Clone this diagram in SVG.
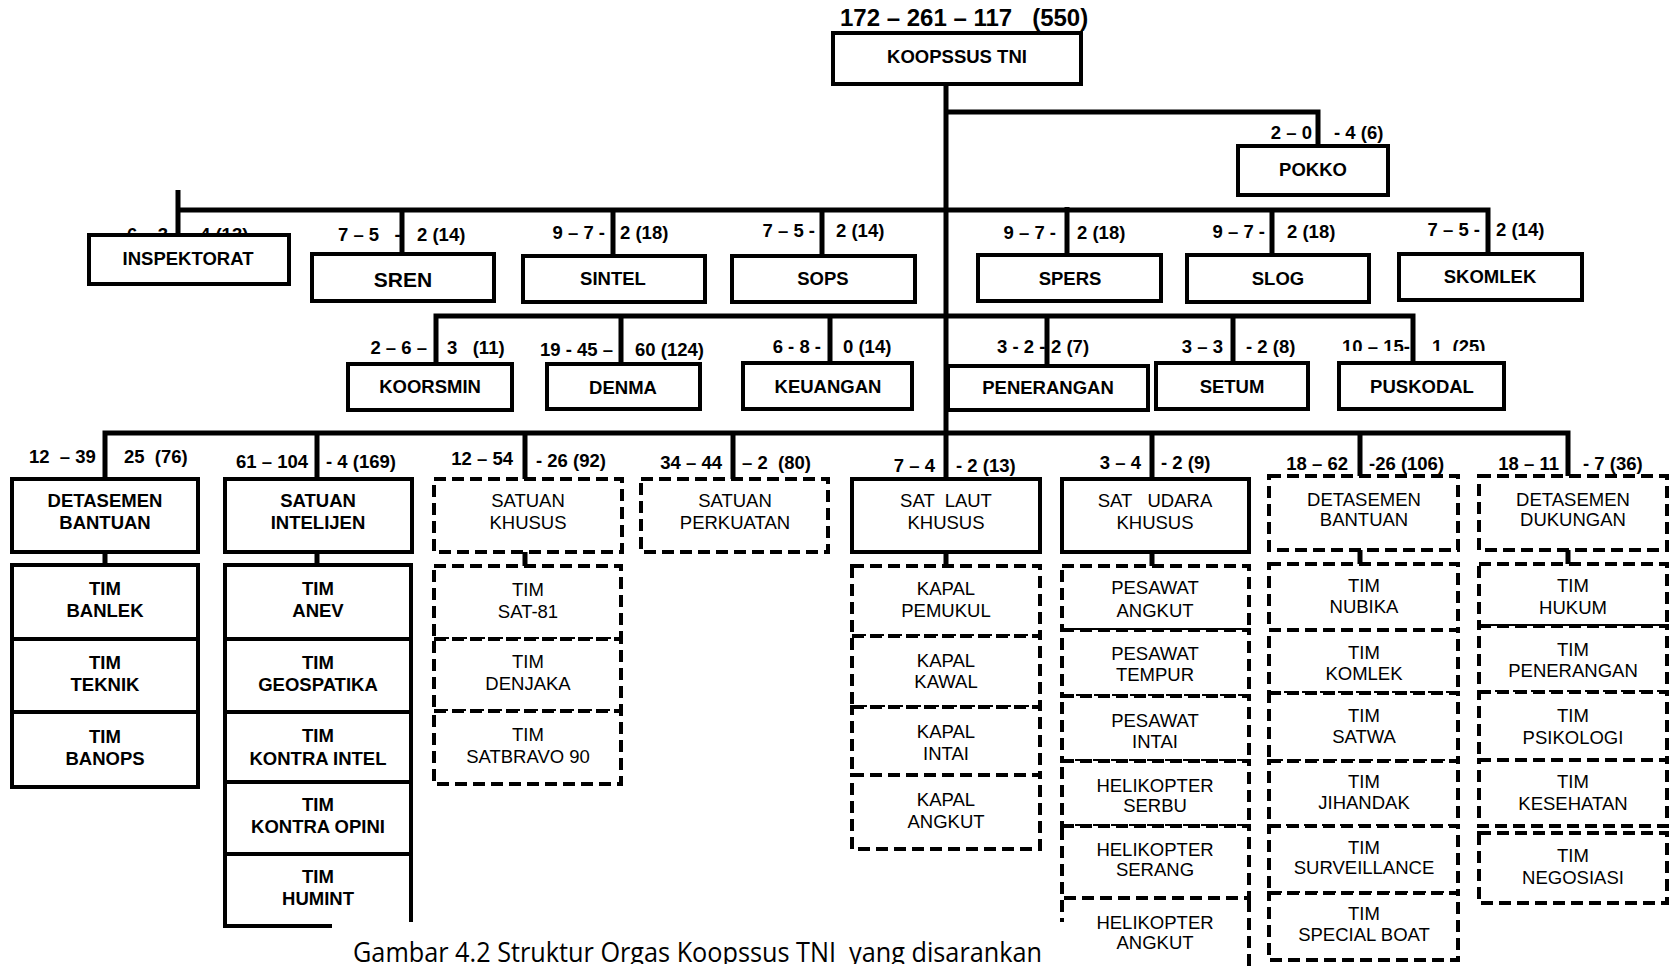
<svg xmlns="http://www.w3.org/2000/svg" width="1676" height="969" viewBox="0 0 1676 969">
<style>
text{font-family:"Liberation Sans",Arial,sans-serif;white-space:pre;fill:#000}
.t{font-weight:bold;font-size:18.5px;text-anchor:middle}
.r{font-size:18.5px;text-anchor:middle}
.n{font-weight:bold;font-size:18.5px}
.e{text-anchor:end}
.b{fill:#fff;stroke:#000;stroke-width:4}
.d{fill:#fff;stroke:#000;stroke-width:4;stroke-dasharray:12 6}
.dl{fill:none;stroke:#000;stroke-width:4;stroke-dasharray:12 6}
.sl{fill:none;stroke:#000;stroke-width:4}
.c{fill:none;stroke:#000;stroke-width:5}
.cap{font-family:"Open Sans","Noto Sans",sans-serif;font-size:28px}
</style>
<defs>
<clipPath id="pk"><rect x="1330" y="320" width="180" height="31"/></clipPath>
<clipPath id="capclip"><rect x="300" y="920" width="800" height="44"/></clipPath>
</defs>
<rect width="1676" height="969" fill="#fff"/>
<g id="connectors">
<path class="c" d="M946,84V479"/>
<path class="c" d="M946,112H1318V146"/>
<path class="c" d="M178,190V235M178,210H1488V254"/>
<path class="c" d="M402,210V254M613,210V256M822,210V256M1067,207V255M1272,210V255"/>
<path class="c" d="M436,364V316H1413V363"/>
<path class="c" d="M621,316V364M830,316V363M1047,316V366M1233,316V363"/>
<path class="c" d="M105,479V433H1568V476"/>
<path class="c" d="M317,433V479M525,433V479M733,433V479M1152,433V479M1360,433V476"/>
<path class="c" d="M105,552V565M317,552V565M525,552V566M946,552V566M1152,552V566M1360,550V564M1568,550V564"/>
</g>
<text class="n" x="840" y="26" style="font-size:24px">172 – 261 – 117   (550)</text>
<g id="koopssus"><rect class="b" x="833" y="33" width="248" height="51"/><text class="t" x="957" y="63">KOOPSSUS TNI</text></g>
<g id="pokko"><text class="n e" x="1312" y="139">2 – 0</text><text class="n" x="1334" y="139">- 4 (6)</text><rect class="b" x="1238" y="146" width="150" height="49"/><text class="t" x="1313" y="176">POKKO</text></g>
<g id="inspektorat"><text class="n" x="127" y="241">6 – 3</text><text class="n" x="200" y="241">4 (13)</text><rect class="b" x="89" y="235" width="200" height="49"/><text class="t" x="188" y="265">INSPEKTORAT</text></g>
<g id="sren"><text class="n" x="338" y="241">7 – 5   -</text><text class="n" x="417" y="241">2 (14)</text><rect class="b" x="312" y="254" width="182" height="47"/><text class="t" x="403" y="287" style="font-size:21px">SREN</text></g>
<g id="sintel"><text class="n e" x="605" y="239">9 – 7 -</text><text class="n" x="620" y="239">2 (18)</text><rect class="b" x="523" y="256" width="182" height="46"/><text class="t" x="613" y="285">SINTEL</text></g>
<g id="sops"><text class="n e" x="815" y="237">7 – 5 -</text><text class="n" x="836" y="237">2 (14)</text><rect class="b" x="732" y="256" width="183" height="46"/><text class="t" x="823" y="285">SOPS</text></g>
<g id="spers"><text class="n e" x="1056" y="239">9 – 7 -</text><text class="n" x="1077" y="239">2 (18)</text><rect class="b" x="978" y="255" width="183" height="46"/><text class="t" x="1070" y="285">SPERS</text></g>
<g id="slog"><text class="n e" x="1265" y="238">9 – 7 -</text><text class="n" x="1287" y="238">2 (18)</text><rect class="b" x="1187" y="255" width="182" height="47"/><text class="t" x="1278" y="285">SLOG</text></g>
<g id="skomlek"><text class="n e" x="1480" y="236">7 – 5 -</text><text class="n" x="1496" y="236">2 (14)</text><rect class="b" x="1399" y="254" width="183" height="46"/><text class="t" x="1490" y="283">SKOMLEK</text></g>
<g id="koorsmin"><text class="n e" x="427" y="354">2 – 6 –</text><text class="n" x="447" y="354">3   (11)</text><rect class="b" x="348" y="364" width="164" height="46"/><text class="t" x="430" y="393">KOORSMIN</text></g>
<g id="denma"><text class="n e" x="613" y="356">19 - 45 –</text><text class="n" x="635" y="356">60 (124)</text><rect class="b" x="547" y="364" width="153" height="45"/><text class="t" x="623" y="394">DENMA</text></g>
<g id="keuangan"><text class="n e" x="821" y="353">6 - 8 -</text><text class="n" x="843" y="353">0 (14)</text><rect class="b" x="743" y="363" width="169" height="46"/><text class="t" x="828" y="393">KEUANGAN</text></g>
<g id="penerangan"><text class="n" x="997" y="353">3 - 2 -</text><text class="n" x="1051" y="353">2 (7)</text><rect class="b" x="948" y="366" width="200" height="44"/><text class="t" x="1048" y="394">PENERANGAN</text></g>
<g id="setum"><text class="n e" x="1223" y="353">3 – 3</text><text class="n" x="1246" y="353">- 2 (8)</text><rect class="b" x="1156" y="363" width="152" height="46"/><text class="t" x="1232" y="393">SETUM</text></g>
<g id="puskodal"><g clip-path="url(#pk)"><text class="n" x="1342" y="353">10 – 15-</text><text class="n" x="1432" y="353">1  (25)</text></g><rect class="b" x="1339" y="363" width="165" height="46"/><text class="t" x="1422" y="393">PUSKODAL</text></g>
<g id="detasemen-bantuan-1">
<text class="n" x="29" y="463">12  – 39</text><text class="n" x="124" y="463">25  (76)</text>
<rect class="b" x="12" y="479" width="186" height="73"/><text class="t" x="105" y="507">DETASEMEN</text><text class="t" x="105" y="529">BANTUAN</text>
<rect class="b" x="12" y="565" width="186" height="74"/><text class="t" x="105" y="595">TIM</text><text class="t" x="105" y="617">BANLEK</text>
<rect class="b" x="12" y="639" width="186" height="73"/><text class="t" x="105" y="669">TIM</text><text class="t" x="105" y="691">TEKNIK</text>
<rect class="b" x="12" y="712" width="186" height="75"/><text class="t" x="105" y="743">TIM</text><text class="t" x="105" y="765">BANOPS</text>
</g>
<g id="satuan-intelijen">
<text class="n e" x="308" y="468">61 – 104</text><text class="n" x="326" y="468">- 4 (169)</text>
<rect class="b" x="225" y="479" width="187" height="73"/><text class="t" x="318" y="507">SATUAN</text><text class="t" x="318" y="529">INTELIJEN</text>
<rect class="b" x="225" y="565" width="186" height="74"/><text class="t" x="318" y="595">TIM</text><text class="t" x="318" y="617">ANEV</text>
<rect class="b" x="225" y="639" width="186" height="73"/><text class="t" x="318" y="669">TIM</text><text class="t" x="318" y="691">GEOSPATIKA</text>
<rect class="b" x="225" y="712" width="186" height="70"/><text class="t" x="318" y="742">TIM</text><text class="t" x="318" y="765">KONTRA INTEL</text>
<rect class="b" x="225" y="782" width="186" height="72"/><text class="t" x="318" y="811">TIM</text><text class="t" x="318" y="833">KONTRA OPINI</text>
<path class="sl" d="M225,854V926H332M411,854V922"/><text class="t" x="318" y="883">TIM</text><text class="t" x="318" y="905">HUMINT</text>
</g>
<g id="satuan-khusus">
<text class="n e" x="513" y="465">12 – 54</text><text class="n" x="536" y="467">- 26 (92)</text>
<rect class="d" x="434" y="479" width="188" height="73"/><text class="r" x="528" y="507">SATUAN</text><text class="r" x="528" y="529">KHUSUS</text>
<rect class="d" x="434" y="566" width="187" height="73"/><text class="r" x="528" y="596">TIM</text><text class="r" x="528" y="618">SAT-81</text>
<rect class="d" x="434" y="639" width="187" height="72"/><text class="r" x="528" y="668">TIM</text><text class="r" x="528" y="690">DENJAKA</text>
<rect class="d" x="434" y="711" width="187" height="73"/><text class="r" x="528" y="741">TIM</text><text class="r" x="528" y="763">SATBRAVO 90</text>
</g>
<g id="satuan-perkuatan">
<text class="n e" x="722" y="469">34 – 44</text><text class="n" x="742" y="469">– 2  (80)</text>
<rect class="d" x="641" y="479" width="187" height="73"/><text class="r" x="735" y="507">SATUAN</text><text class="r" x="735" y="529">PERKUATAN</text>
</g>
<g id="sat-laut-khusus">
<text class="n e" x="935" y="472">7 – 4</text><text class="n" x="956" y="472">- 2 (13)</text>
<rect class="b" x="852" y="479" width="188" height="73"/><text class="r" x="946" y="507">SAT  LAUT</text><text class="r" x="946" y="529">KHUSUS</text>
<rect class="d" x="852" y="566" width="188" height="70"/><text class="r" x="946" y="595">KAPAL</text><text class="r" x="946" y="617">PEMUKUL</text>
<rect class="d" x="852" y="636" width="188" height="71"/><text class="r" x="946" y="667">KAPAL</text><text class="r" x="946" y="688">KAWAL</text>
<rect class="d" x="852" y="707" width="188" height="68"/><text class="r" x="946" y="738">KAPAL</text><text class="r" x="946" y="760">INTAI</text>
<rect class="d" x="852" y="775" width="188" height="74"/><text class="r" x="946" y="806">KAPAL</text><text class="r" x="946" y="828">ANGKUT</text>
</g>
<g id="sat-udara-khusus">
<text class="n e" x="1141" y="469">3 – 4</text><text class="n" x="1161" y="469">- 2 (9)</text>
<rect class="b" x="1062" y="479" width="187" height="73"/><text class="r" x="1155" y="507">SAT   UDARA</text><text class="r" x="1155" y="529">KHUSUS</text>
<rect class="d" x="1062" y="566" width="187" height="64"/><text class="r" x="1155" y="594">PESAWAT</text><text class="r" x="1155" y="617">ANGKUT</text>
<rect class="d" x="1062" y="630" width="187" height="66"/><text class="r" x="1155" y="660">PESAWAT</text><text class="r" x="1155" y="681">TEMPUR</text>
<rect class="d" x="1062" y="696" width="187" height="65"/><text class="r" x="1155" y="727">PESAWAT</text><text class="r" x="1155" y="748">INTAI</text>
<rect class="d" x="1062" y="761" width="187" height="65"/><text class="r" x="1155" y="792">HELIKOPTER</text><text class="r" x="1155" y="812">SERBU</text>
<rect class="d" x="1062" y="826" width="187" height="72"/><text class="r" x="1155" y="856">HELIKOPTER</text><text class="r" x="1155" y="876">SERANG</text>
<path class="dl" d="M1062,900V922M1249,900V969"/><text class="r" x="1155" y="929">HELIKOPTER</text><text class="r" x="1155" y="949">ANGKUT</text>
</g>
<g id="detasemen-bantuan-2">
<text class="n e" x="1348" y="470">18 – 62</text><text class="n" x="1369" y="470">-26 (106)</text>
<rect class="d" x="1269" y="476" width="189" height="74"/><text class="r" x="1364" y="506">DETASEMEN</text><text class="r" x="1364" y="526">BANTUAN</text>
<rect class="d" x="1269" y="564" width="189" height="66"/><text class="r" x="1364" y="592">TIM</text><text class="r" x="1364" y="613">NUBIKA</text>
<rect class="d" x="1269" y="630" width="189" height="63"/><text class="r" x="1364" y="659">TIM</text><text class="r" x="1364" y="680">KOMLEK</text>
<rect class="d" x="1269" y="693" width="189" height="68"/><text class="r" x="1364" y="722">TIM</text><text class="r" x="1364" y="743">SATWA</text>
<rect class="d" x="1269" y="761" width="189" height="65"/><text class="r" x="1364" y="788">TIM</text><text class="r" x="1364" y="809">JIHANDAK</text>
<rect class="d" x="1269" y="826" width="189" height="67"/><text class="r" x="1364" y="854">TIM</text><text class="r" x="1364" y="874">SURVEILLANCE</text>
<rect class="d" x="1269" y="893" width="189" height="67"/><text class="r" x="1364" y="920">TIM</text><text class="r" x="1364" y="941">SPECIAL BOAT</text>
</g>
<g id="detasemen-dukungan">
<text class="n e" x="1559" y="470">18 – 11</text><text class="n" x="1583" y="470">- 7 (36)</text>
<rect class="d" x="1479" y="476" width="188" height="74"/><text class="r" x="1573" y="506">DETASEMEN</text><text class="r" x="1573" y="526">DUKUNGAN</text>
<rect class="d" x="1479" y="564" width="188" height="62"/><text class="r" x="1573" y="592">TIM</text><text class="r" x="1573" y="614">HUKUM</text>
<rect class="d" x="1479" y="626" width="188" height="66"/><text class="r" x="1573" y="656">TIM</text><text class="r" x="1573" y="677">PENERANGAN</text>
<rect class="d" x="1479" y="692" width="188" height="68"/><text class="r" x="1573" y="722">TIM</text><text class="r" x="1573" y="744">PSIKOLOGI</text>
<rect class="d" x="1479" y="760" width="188" height="66"/><text class="r" x="1573" y="788">TIM</text><text class="r" x="1573" y="810">KESEHATAN</text>
<rect class="d" x="1479" y="833" width="188" height="70"/><text class="r" x="1573" y="862">TIM</text><text class="r" x="1573" y="884">NEGOSIASI</text>
</g>
<g clip-path="url(#capclip)"><text class="cap" x="353" y="962" textLength="689" lengthAdjust="spacingAndGlyphs">Gambar 4.2 Struktur Orgas Koopssus TNI  yang disarankan</text></g>
</svg>
